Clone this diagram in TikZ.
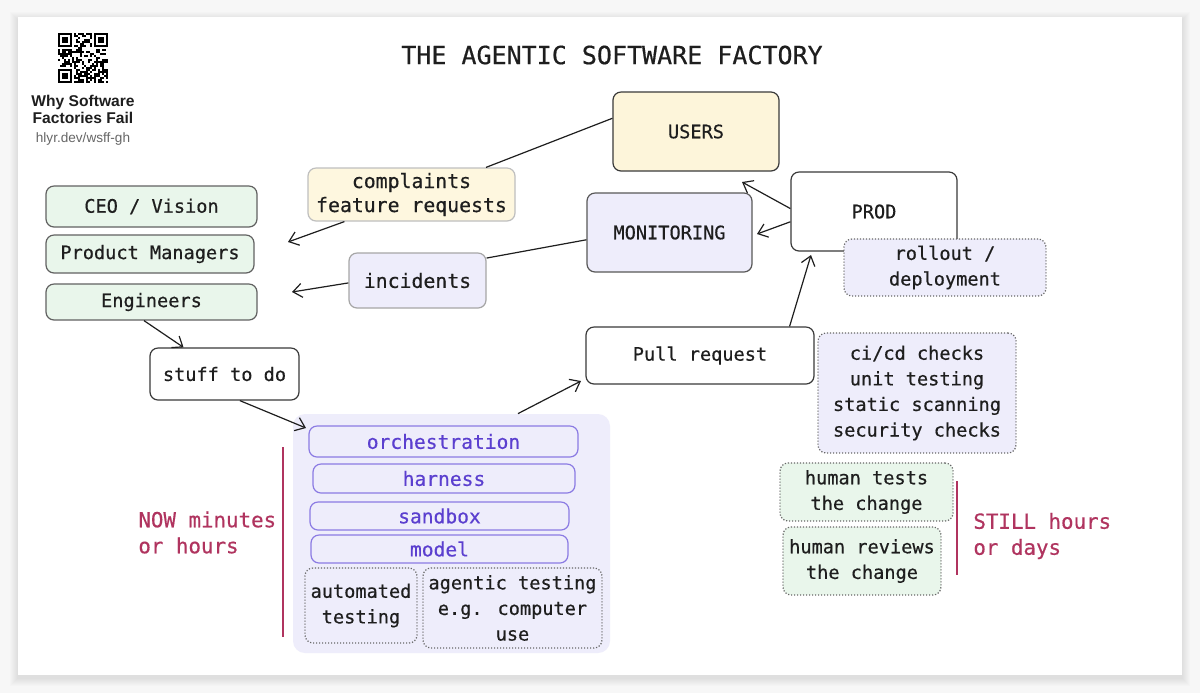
\documentclass[tikz,border=0pt]{standalone}
\usepackage{fontspec}
\usetikzlibrary{arrows.meta,calc}
\newfontfamily\mono[FakeBold=0.5]{DejaVu Sans Mono}
\newfontfamily\sansf{Liberation Sans}
\definecolor{ink}{HTML}{1E1E1E}
\definecolor{edge}{HTML}{3A3A3A}
\definecolor{yelfill}{HTML}{FDF5DA}
\definecolor{yelfillb}{HTML}{FEF7DF}
\definecolor{lavfill}{HTML}{EEEDFB}
\definecolor{grnfill}{HTML}{E9F6EB}
\definecolor{purpedge}{HTML}{8B7BE3}
\definecolor{purptext}{HTML}{5B3FCF}
\definecolor{crimson}{HTML}{B0345F}
\definecolor{bgout}{HTML}{F7F7F7}
\tikzset{
  box/.style={draw=edge, line width=0.6pt, rounded corners=4pt, align=center, inner sep=0pt, text=ink,
    font=\mono\fontsize{9.3}{12.8}\selectfont},
  big/.style={font=\mono\fontsize{9.9}{12}\selectfont},
  greenbox/.style={box, fill=grnfill, draw=edge!80},
  dotbox/.style={box, draw=black!60, dash pattern=on 0.6pt off 0.9pt},
  layerbox/.style={box, draw=purpedge, fill=lavfill, text=purptext, font=\mono\fontsize{9.8}{12}\selectfont},
  arr/.style={draw=ink, line width=0.6pt, -{Straight Barb[length=4.5pt,width=7pt,line width=0.6pt]}},
  link/.style={draw=ink, line width=0.6pt},
  timeline/.style={draw=crimson, line width=0.8pt},
  timetext/.style={text=crimson, align=left, inner sep=0pt, font=\mono\fontsize{10.4}{13}\selectfont},
}
\begin{document}
\begin{tikzpicture}[x=0.5pt, y=-0.5pt]
\useasboundingbox (0,0) rectangle (1200,693);
% background and card
\fill[bgout] (0,0) rectangle (1200,693);
\foreach \k in {1,...,8}{
  \fill[black, opacity=0.01] (18-\k,17-\k+3) rectangle (1182+\k,675+\k+3);
}
\fill[white] (18,17) rectangle (1182,675);
% QR code
\pgfmathsetseed{42}
\foreach \i in {0,...,24}{
  \foreach \j in {0,...,24}{
    \pgfmathtruncatemacro{\qrf}{((\i<8)&&(\j<8)) || ((\i>16)&&(\j<8)) || ((\i<8)&&(\j>16)) ? 1 : 0}
    \ifnum\qrf=0
      \pgfmathtruncatemacro{\qrb}{rnd<0.5 ? 1 : 0}
      \ifnum\qrb=1 \fill[black] (58+2*\i,33+2*\j) rectangle ++(2,2); \fi
    \fi
  }
}
\foreach \cx/\cy in {58/33, 94/33, 58/69}{
  \fill[black] (\cx,\cy) rectangle ++(14,14);
  \fill[white] (\cx+2,\cy+2) rectangle ++(10,10);
  \fill[black] (\cx+4,\cy+4) rectangle ++(6,6);
}
\node[font=\sansf\bfseries\fontsize{7.8}{8.6}\selectfont, align=center, text=ink, inner sep=0pt] (qrtitle) at (83,109.5) {Why Software\\Factories Fail};
\node[font=\sansf\fontsize{6.8}{8}\selectfont, text=black!60, inner sep=0pt] (qrurl) at (83,139) {hlyr.dev/wsff-gh};
% title
\node[font=\mono\fontsize{12.5}{14}\selectfont, text=ink, inner sep=0pt] (title) at (612,55) {THE AGENTIC SOFTWARE FACTORY};
% top right cluster
\node[box, fill=yelfill, minimum width=83pt, minimum height=39.5pt] (users) at (696,131.5) {USERS};
\node[box, big, fill=yelfillb, draw=black!25, minimum width=103.5pt, minimum height=26.5pt] (complaints) at (411.5,194.5) {complaints\\feature requests};
\node[box, fill=lavfill, draw=edge!85, minimum width=82.5pt, minimum height=39.5pt] (monitoring) at (669.5,232.5) {MONITORING};
\node[box, fill=white, minimum width=83pt, minimum height=39.5pt] (prod) at (874,211.5) {PROD};
\node[dotbox, fill=lavfill, minimum width=101pt, minimum height=28.5pt] (rollout) at (945,267.5) {rollout /\\deployment};
\node[box, big, fill=lavfill, draw=black!35, minimum width=68.5pt, minimum height=27.5pt] (incidents) at (417.5,280.5) {incidents};
% left stack
\node[greenbox, minimum width=105.5pt, minimum height=20.5pt] (ceo) at (151.5,206.5) {CEO / Vision};
\node[greenbox, minimum width=104pt, minimum height=19pt] (pm) at (150,254) {Product Managers};
\node[greenbox, minimum width=105.5pt, minimum height=18pt] (eng) at (151.5,302) {Engineers};
\node[box, fill=white, minimum width=74.5pt, minimum height=26pt] (stuff) at (224.5,374) {stuff to do};
% pull request and checks
\node[box, fill=white, minimum width=114pt, minimum height=28.5pt] (pr) at (700,355.5) {Pull request};
\node[dotbox, fill=lavfill, minimum width=99pt, minimum height=60pt] (cicd) at (917,393) {ci/cd checks\\unit testing\\static scanning\\security checks};
% agent container
\node[fill=lavfill, rounded corners=6pt, minimum width=158.5pt, minimum height=119.5pt, inner sep=0pt] (agent) at (451.5,533.5) {};
\node[layerbox, minimum width=134.5pt, minimum height=15.5pt] (orch) at (443.5,441.5) {orchestration};
\node[layerbox, minimum width=131pt, minimum height=14.5pt] (harness) at (444,478.5) {harness};
\node[layerbox, minimum width=129.5pt, minimum height=14pt] (sandbox) at (439.5,516) {sandbox};
\node[layerbox, minimum width=128.5pt, minimum height=14pt] (model) at (439.5,549) {model};
\node[dotbox, minimum width=56pt, minimum height=37.5pt] (auto) at (361,605.5) {automated\\testing};
\node[dotbox, minimum width=89.5pt, minimum height=40pt] (agentic) at (512.5,608) {agentic testing\\e.g. computer\\use};
% human checks
\node[dotbox, fill=grnfill, minimum width=86.5pt, minimum height=29pt] (htests) at (866.5,492) {human tests\\the change};
\node[dotbox, fill=grnfill, minimum width=79pt, minimum height=34pt] (hreviews) at (862,561) {human reviews\\the change};
% time annotations
\coordinate (nowtop) at (283,447);
\coordinate (nowbot) at (283,637);
\draw[timeline] (nowtop) -- (nowbot);
\node[timetext, anchor=west] (nowtext) at (138,532.5) {NOW minutes\\or hours};
\coordinate (stilltop) at (957,481);
\coordinate (stillbot) at (957,575);
\draw[timeline] (stilltop) -- (stillbot);
\node[timetext, anchor=west] (stilltext) at (973,536) {STILL hours\\or days};
% connectors
\coordinate (tipfb) at (288,242);
\coordinate (tipinc) at (292,292);
\coordinate (tipusers) at (742,182);
\coordinate (tipmon) at (757,234);
\coordinate (tipprod) at (811,255);
\coordinate (tipagent) at (306,428);
\coordinate (tippr) at (581,381);
\draw[link] (users.171) -- (complaints.20);
\draw[arr] (complaints.202) -- (tipfb);
\draw[link] (monitoring.185) -- (incidents.18);
\draw[arr] (incidents.182) -- (tipinc);
\draw[arr] (prod.178) -- (tipusers);
\draw[arr] (prod.187) -- (tipmon);
\draw[arr] (pr.18) -- (tipprod);
\draw[arr] (eng.248) -- (stuff.147);
\draw[arr] (stuff.-60) -- (tipagent);
\draw[arr] (agent.61) -- (tippr);
\end{tikzpicture}
\end{document}
